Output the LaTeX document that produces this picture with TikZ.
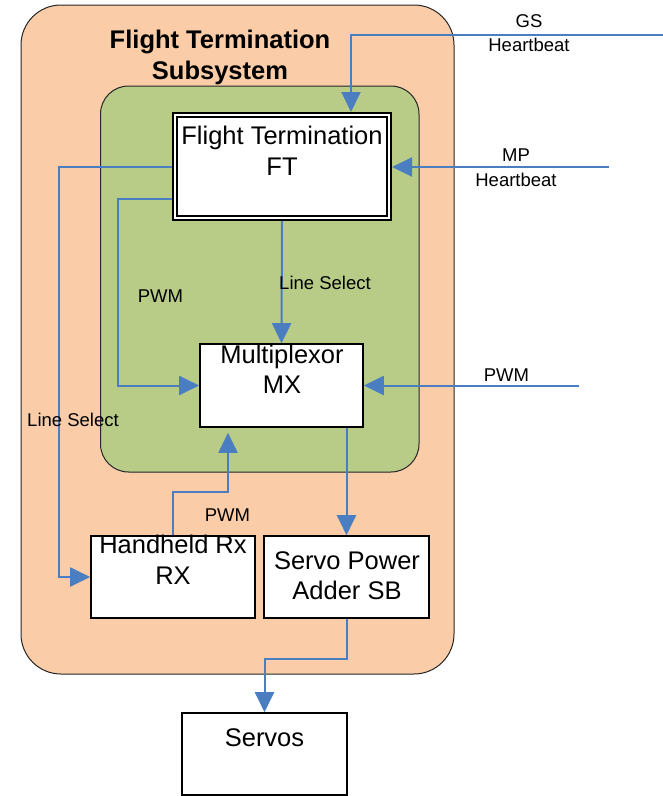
\documentclass[tikz,border=0pt]{standalone}
\usepackage{fontspec}
\setmainfont{Liberation Sans}
\usetikzlibrary{arrows.meta}
\definecolor{peach}{RGB}{250,205,168}
\definecolor{olivefill}{RGB}{184,204,136}
\definecolor{linkblue}{RGB}{74,126,193}
\begin{document}
\begin{tikzpicture}[x=1pt,y=-1pt,
  container/.style={draw=black!85, line width=1pt, inner sep=0pt, rounded corners=#1},
  box/.style={draw=black, line width=1.6pt, fill=white, inner sep=0pt},
  boxtext/.style={font=\fontsize{25.5}{30}\selectfont, anchor=base, inner sep=0pt},
  lbl/.style={font=\fontsize{18.5}{24}\selectfont, anchor=base, inner sep=0pt},
  titletext/.style={font=\bfseries\fontsize{25.5}{31}\selectfont, anchor=base, inner sep=0pt},
  flow/.style={draw=linkblue, line width=2pt, -{Triangle[length=20pt,width=19pt]}}
]
\fill[white] (0,0) rectangle (663,796);
\useasboundingbox (0,0) rectangle (663,796);

% containers
\node[container=40pt, fill=peach, minimum width=433pt, minimum height=669pt] (outer) at (237.5,339.5) {};
\node[container=28pt, fill=olivefill, minimum width=318.5pt, minimum height=386pt] (inner) at (259.75,279) {};

% boxes
\node[draw=black, fill=white, line width=1.8pt, double=white, double distance=2.4pt, inner sep=0pt, outer sep=3pt,
      minimum width=214pt, minimum height=103pt] (ft) at (282,166.5) {};
\node[box, minimum width=163pt, minimum height=83pt] (mx) at (281.5,385.5) {};
\node[box, minimum width=164pt, minimum height=82pt] (rx) at (173,577) {};
\node[box, minimum width=165pt, minimum height=82pt] (sb) at (346.5,577) {};
\node[box, minimum width=165pt, minimum height=82pt] (servos) at (264.5,754) {};

% helper coordinates
\coordinate (gsin) at (663,35);
\coordinate (gsturn) at (351,35);
\coordinate (mpin) at (609,167);
\coordinate (pwmin) at (579,385.5);
\coordinate (pwmturn) at (118,199);
\coordinate (lsturn) at (59,167);
\coordinate (rxturn) at (228,492);
\coordinate (sbturn) at (347,659);

% connectors
\draw[flow] (gsin) -- (gsturn) -- (gsturn |- ft.north);
\draw[flow] (mpin) -- (mpin -| ft.east);
\draw[flow] (ft.south) -- (mx.north);
\draw[flow] (ft.west |- pwmturn) -- (pwmturn) |- (mx.west);
\draw[flow] (ft.west |- lsturn) -- (lsturn) |- (rx.west);
\draw[flow] (pwmin) -- (mx.east);
\draw[flow] (rx.north) |- (rxturn) -- ([yshift=-5pt]mx.south -| rxturn);
\draw[flow] (mx.south -| sb.north) -- (sb.north);
\draw[flow] (sb.south) -- (sb.south |- sbturn) -| (servos.north);

% title
\node[titletext] (title1) at (220,48) {Flight Termination};
\node[titletext] (title2) at (220,79) {Subsystem};

% box texts
\node[boxtext] (ft1) at (282,144) {Flight Termination};
\node[boxtext] (ft2) at (282,175) {FT};
\node[boxtext] (mx1) at (282,363) {Multiplexor};
\node[boxtext] (mx2) at (282,393) {MX};
\node[boxtext] (rx1) at (173,553.5) {Handheld Rx};
\node[boxtext] (rx2) at (173,584.5) {RX};
\node[boxtext] (sb1) at (347,569) {Servo Power};
\node[boxtext] (sb2) at (347,599.5) {Adder SB};
\node[boxtext] (sv1) at (264.5,746.5) {Servos};

% labels
\node[lbl] (gs1) at (529,27.5) {GS};
\node[lbl] (gs2) at (529,51) {Heartbeat};
\node[lbl] (mp1) at (516,161.5) {MP};
\node[lbl] (mp2) at (516,186) {Heartbeat};
\node[lbl] (ls1) at (325,289) {Line Select};
\node[lbl] (pwm1) at (160.5,302) {PWM};
\node[lbl] (pwm2) at (506.5,381.5) {PWM};
\node[lbl] (ls2) at (73,426) {Line Select};
\node[lbl] (pwm3) at (227.5,521) {PWM};
\end{tikzpicture}
\end{document}
